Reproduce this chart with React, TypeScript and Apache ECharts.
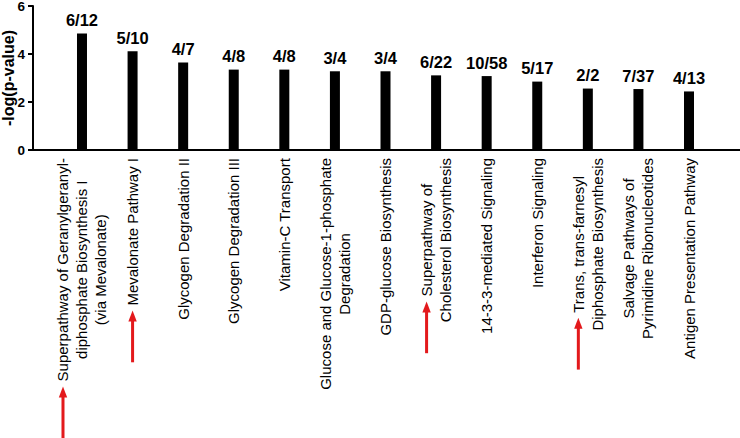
import React, { useEffect, useRef } from 'react';
import * as echarts from 'echarts';

const categories: string[] = [
  'Superpathway of Geranylgeranyl-\ndiphosphate Biosynthesis I\n(via Mevalonate)',
  'Mevalonate Pathway I',
  'Glycogen Degradation II',
  'Glycogen Degradation III',
  'Vitamin-C Transport',
  'Glucose and Glucose-1-phosphate\nDegradation',
  'GDP-glucose Biosynthesis',
  'Superpathway of\nCholesterol Biosynthesis',
  '14-3-3-mediated Signaling',
  'Interferon Signaling',
  'Trans, trans-farnesyl\nDiphosphate Biosynthesis',
  'Salvage Pathways of\nPyrimidine Ribonucleotides',
  'Antigen Presentation Pathway',
];

const values: number[] = [4.85, 4.11, 3.65, 3.35, 3.35, 3.28, 3.28, 3.11, 3.08, 2.85, 2.56, 2.54, 2.44];

const ratios: string[] = ['6/12', '5/10', '4/7', '4/8', '4/8', '3/4', '3/4', '6/22', '10/58', '5/17', '2/2', '7/37', '4/13'];

// categories marked with a red arrow
const highlighted: number[] = [0, 1, 7, 10];

const yMin = 0;
const yMax = 6;
const yInterval = 2;

const FONT = "'Liberation Sans', Arial, Helvetica, sans-serif";

export default function App() {
  const ref = useRef<HTMLDivElement>(null);

  useEffect(() => {
    if (!ref.current) return;
    const chart = echarts.init(ref.current, null, { renderer: 'svg' });

    const red = '#e3191c';
    const arrowSvg =
      `<svg xmlns="http://www.w3.org/2000/svg" width="57" height="10" viewBox="0 0 57 10">` +
      `<rect x="0" y="3.5" width="43" height="3" fill="${red}"/>` +
      `<polygon points="41,0.8 52,5 41,9.2" fill="${red}"/></svg>`;
    const arrowUrl = 'data:image/svg+xml;charset=utf-8,' + encodeURIComponent(arrowSvg);

    const rich: any = {
      c: { align: 'center', fontSize: 15, lineHeight: 19, fontFamily: FONT, color: '#000' },
      sp: { width: 57, height: 10, lineHeight: 19 },
      arr: { width: 57, height: 10, lineHeight: 19, backgroundColor: { image: arrowUrl } },
    };

    const fmt = (value: string, index: number) => {
      const lines = String(value).split('\n');
      const mark = highlighted.indexOf(index) >= 0;
      return lines
        .map((l, i) => (mark ? (i === 0 ? '{arr|}' : '{sp|}') : '') + `{c|${l}}`)
        .join('\n');
    };

    chart.setOption({
      animation: false,
      backgroundColor: '#ffffff',
      grid: [
        { left: 56.7, right: 25.7, top: 6, bottom: 288, containLabel: false, outerBoundsMode: 'none' },
        { left: 33, right: 0, top: 6, bottom: 288, containLabel: false, outerBoundsMode: 'none' },
      ],
      xAxis: [
        {
          type: 'category',
          gridIndex: 0,
          data: categories,
          axisLine: { show: false },
          axisTick: { show: false },
          splitLine: { show: false },
          axisLabel: {
            interval: 0,
            rotate: 90,
            margin: 8,
            formatter: fmt,
            rich,
            fontFamily: FONT,
            fontSize: 15,
            color: '#000',
          },
        },
        {
          type: 'value',
          gridIndex: 1,
          min: 0,
          max: 1,
          axisLine: { show: true, onZero: false, lineStyle: { color: '#000', width: 2 } },
          axisTick: { show: false },
          axisLabel: { show: false },
          splitLine: { show: false },
        },
      ],
      yAxis: [
        { type: 'value', gridIndex: 0, min: yMin, max: yMax, interval: yInterval, show: false },
        {
          type: 'value',
          gridIndex: 1,
          min: yMin,
          max: yMax,
          interval: yInterval,
          name: '-log(p-value)',
          nameLocation: 'middle',
          nameGap: 17,
          nameMoveOverlap: false,
          nameTextStyle: { fontSize: 16, fontWeight: 'bold', fontFamily: FONT, color: '#000' },
          axisLine: { show: true, lineStyle: { color: '#000', width: 2 } },
          axisTick: { show: true, length: 5, lineStyle: { color: '#000', width: 2 } },
          axisLabel: { fontSize: 13.5, fontWeight: 'bold', color: '#000', margin: 8, fontFamily: FONT },
          splitLine: { show: false },
        },
      ],
      series: [
        {
          type: 'bar',
          xAxisIndex: 0,
          yAxisIndex: 0,
          data: values,
          barWidth: 10,
          itemStyle: { color: '#000' },
          label: {
            show: true,
            position: 'top',
            distance: 5,
            formatter: (p: any) => ratios[p.dataIndex],
            fontSize: 16.5,
            fontWeight: 'bold',
            fontFamily: FONT,
            color: '#000',
          },
        },
        {
          type: 'line',
          xAxisIndex: 1,
          yAxisIndex: 1,
          data: [],
          silent: true,
        },
      ],
    });

    return () => {
      chart.dispose();
    };
  }, []);

  return (
    <div
      ref={ref}
      style={{ position: 'fixed', left: 0, top: 0, width: 740, height: 438, background: '#fff' }}
    />
  );
}
